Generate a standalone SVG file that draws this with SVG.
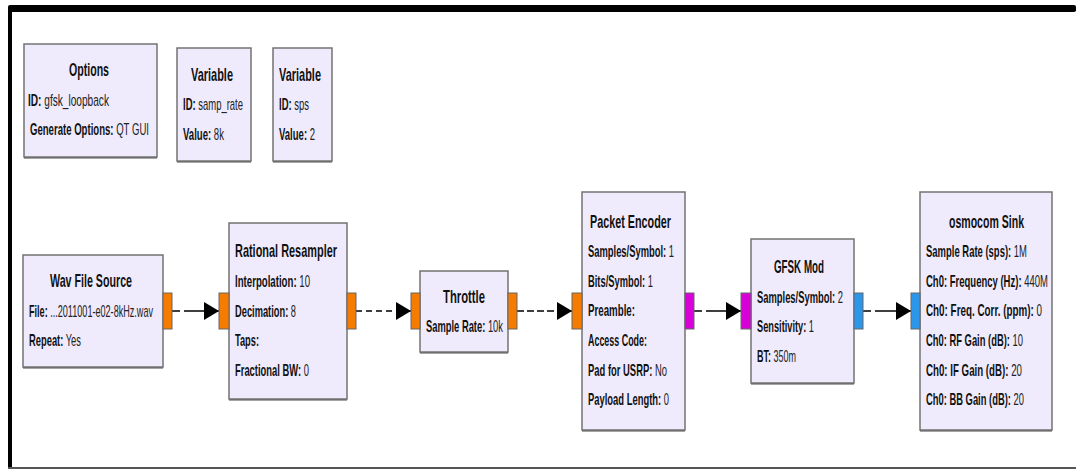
<svg xmlns="http://www.w3.org/2000/svg" width="1076" height="470" viewBox="0 0 1076 470">
<style>
.blk{fill:#EFEBFD;stroke:#737373;stroke-width:1.5}
.shd{fill:none;stroke:#4a4a4a;stroke-width:1.2}
.t{font-family:"Liberation Sans",Arial,sans-serif;font-size:18px;font-weight:bold;fill:#111}
.p{font-family:"Liberation Sans",Arial,sans-serif;font-size:16px;fill:#222}
.b{font-weight:bold;fill:#111}
.po{fill:#F57C00;stroke:#666;stroke-width:1}
.pm{fill:#D800D8;stroke:#666;stroke-width:1}
.pb{fill:#2A97EA;stroke:#666;stroke-width:1}
.cn{fill:none;stroke:#000;stroke-width:1.6}
</style>
<defs>
<marker id="ah" markerWidth="15" markerHeight="18" refX="15" refY="9" orient="auto" markerUnits="userSpaceOnUse">
<path d="M0,0 L15,9 L0,18 Z" fill="#000"/>
</marker>
</defs>
<rect width="1076" height="470" fill="#fff"/>
<g id="frame">
<path d="M10,469 L10,12 Q10,9 13,9 L1076,9" fill="none" stroke="#000" stroke-width="4"/>
<rect x="8" y="5" width="1068" height="7" fill="#000" rx="2"/>
<line x1="8" y1="468" x2="1076" y2="468" stroke="#555" stroke-width="2"/>
</g>
<g id="connectors">
<line class="cn" x1="172" y1="311" x2="219" y2="311" stroke-dasharray="8 4 60 0" marker-end="url(#ah)"/>
<line class="cn" x1="356" y1="311" x2="411" y2="311" stroke-dasharray="6 4" marker-end="url(#ah)"/>
<line class="cn" x1="517" y1="311" x2="572" y2="311" stroke-dasharray="7 3" marker-end="url(#ah)"/>
<line class="cn" x1="694" y1="311" x2="741" y2="311" stroke-dasharray="8 4 60 0" marker-end="url(#ah)"/>
<line class="cn" x1="863" y1="311" x2="911" y2="311" stroke-dasharray="8 4 60 0" marker-end="url(#ah)"/>
</g>
<g id="options">
<rect class="blk" x="24" y="44" width="133" height="113"/>
<line class="shd" x1="24" y1="158" x2="157" y2="158"/>
<text class="t" transform="translate(69,76) scale(0.6,1)" textLength="66.7" lengthAdjust="spacingAndGlyphs">Options</text>
<text class="p" transform="translate(28,106) scale(0.6,1)" textLength="135" lengthAdjust="spacingAndGlyphs"><tspan class="b">ID:</tspan> gfsk_loopback</text>
<text class="p" transform="translate(30,135) scale(0.6,1)" textLength="198.3" lengthAdjust="spacingAndGlyphs"><tspan class="b">Generate Options:</tspan> QT GUI</text>
</g>
<g id="var_samp_rate">
<rect class="blk" x="177" y="48" width="74" height="113"/>
<line class="shd" x1="177" y1="162" x2="251" y2="162"/>
<text class="t" transform="translate(191,81) scale(0.6,1)" textLength="70" lengthAdjust="spacingAndGlyphs">Variable</text>
<text class="p" transform="translate(183,110) scale(0.6,1)" textLength="100" lengthAdjust="spacingAndGlyphs"><tspan class="b">ID:</tspan> samp_rate</text>
<text class="p" transform="translate(183,140) scale(0.6,1)" textLength="68.3" lengthAdjust="spacingAndGlyphs"><tspan class="b">Value:</tspan> 8k</text>
</g>
<g id="var_sps">
<rect class="blk" x="273" y="48" width="59" height="113"/>
<line class="shd" x1="273" y1="162" x2="332" y2="162"/>
<text class="t" transform="translate(279,81) scale(0.6,1)" textLength="70" lengthAdjust="spacingAndGlyphs">Variable</text>
<text class="p" transform="translate(279,110) scale(0.6,1)" textLength="50" lengthAdjust="spacingAndGlyphs"><tspan class="b">ID:</tspan> sps</text>
<text class="p" transform="translate(279,140) scale(0.6,1)" textLength="60" lengthAdjust="spacingAndGlyphs"><tspan class="b">Value:</tspan> 2</text>
</g>
<g id="wav_source">
<rect class="blk" x="23" y="255" width="140" height="112"/>
<line class="shd" x1="23" y1="368" x2="163" y2="368"/>
<rect class="po" x="163" y="293" width="9" height="36"/>
<text class="t" transform="translate(50,287) scale(0.6,1)" textLength="136.7" lengthAdjust="spacingAndGlyphs">Wav File Source</text>
<text class="p" transform="translate(29,317) scale(0.6,1)" textLength="206.7" lengthAdjust="spacingAndGlyphs"><tspan class="b">File:</tspan> ...2011001-e02-8kHz.wav</text>
<text class="p" transform="translate(29,346) scale(0.6,1)" textLength="86.7" lengthAdjust="spacingAndGlyphs"><tspan class="b">Repeat:</tspan> Yes</text>
</g>
<g id="rational_resampler">
<rect class="blk" x="229" y="223" width="118" height="176"/>
<line class="shd" x1="229" y1="400" x2="347" y2="400"/>
<rect class="po" x="219" y="293" width="10" height="36"/>
<rect class="po" x="347" y="293" width="9" height="36"/>
<text class="t" transform="translate(235,257) scale(0.6,1)" textLength="170" lengthAdjust="spacingAndGlyphs">Rational Resampler</text>
<text class="p" transform="translate(235,287) scale(0.6,1)" textLength="125" lengthAdjust="spacingAndGlyphs"><tspan class="b">Interpolation:</tspan> 10</text>
<text class="p" transform="translate(235,317) scale(0.6,1)" textLength="101.7" lengthAdjust="spacingAndGlyphs"><tspan class="b">Decimation:</tspan> 8</text>
<text class="p b" transform="translate(235,346) scale(0.6,1)" textLength="40" lengthAdjust="spacingAndGlyphs">Taps:</text>
<text class="p" transform="translate(235,376) scale(0.6,1)" textLength="123.3" lengthAdjust="spacingAndGlyphs"><tspan class="b">Fractional BW:</tspan> 0</text>
</g>
<g id="throttle">
<rect class="blk" x="420" y="271" width="88" height="81"/>
<line class="shd" x1="420" y1="353" x2="508" y2="353"/>
<rect class="po" x="411" y="293" width="9" height="36"/>
<rect class="po" x="508" y="293" width="9" height="36"/>
<text class="t" transform="translate(443,303) scale(0.6,1)" textLength="70" lengthAdjust="spacingAndGlyphs">Throttle</text>
<text class="p" transform="translate(426,332) scale(0.6,1)" textLength="128.3" lengthAdjust="spacingAndGlyphs"><tspan class="b">Sample Rate:</tspan> 10k</text>
</g>
<g id="packet_encoder">
<rect class="blk" x="582" y="192" width="103" height="238"/>
<line class="shd" x1="582" y1="431" x2="685" y2="431"/>
<rect class="po" x="572" y="293" width="10" height="36"/>
<rect class="pm" x="685" y="293" width="9" height="36"/>
<text class="t" transform="translate(590,228) scale(0.6,1)" textLength="135" lengthAdjust="spacingAndGlyphs">Packet Encoder</text>
<text class="p" transform="translate(588,257) scale(0.6,1)" textLength="143.3" lengthAdjust="spacingAndGlyphs"><tspan class="b">Samples/Symbol:</tspan> 1</text>
<text class="p" transform="translate(588,287) scale(0.6,1)" textLength="108.3" lengthAdjust="spacingAndGlyphs"><tspan class="b">Bits/Symbol:</tspan> 1</text>
<text class="p b" transform="translate(588,316) scale(0.6,1)" textLength="78.3" lengthAdjust="spacingAndGlyphs">Preamble:</text>
<text class="p b" transform="translate(588,346) scale(0.6,1)" textLength="98.3" lengthAdjust="spacingAndGlyphs">Access Code:</text>
<text class="p" transform="translate(588,376) scale(0.6,1)" textLength="131.7" lengthAdjust="spacingAndGlyphs"><tspan class="b">Pad for USRP:</tspan> No</text>
<text class="p" transform="translate(588,405) scale(0.6,1)" textLength="135" lengthAdjust="spacingAndGlyphs"><tspan class="b">Payload Length:</tspan> 0</text>
</g>
<g id="gfsk_mod">
<rect class="blk" x="751" y="239" width="103" height="144"/>
<line class="shd" x1="751" y1="384" x2="854" y2="384"/>
<rect class="pm" x="741" y="293" width="10" height="36"/>
<rect class="pb" x="854" y="293" width="9" height="36"/>
<text class="t" transform="translate(774,273) scale(0.6,1)" textLength="83.3" lengthAdjust="spacingAndGlyphs">GFSK Mod</text>
<text class="p" transform="translate(757,303) scale(0.6,1)" textLength="143.3" lengthAdjust="spacingAndGlyphs"><tspan class="b">Samples/Symbol:</tspan> 2</text>
<text class="p" transform="translate(757,332) scale(0.6,1)" textLength="95" lengthAdjust="spacingAndGlyphs"><tspan class="b">Sensitivity:</tspan> 1</text>
<text class="p" transform="translate(757,362) scale(0.6,1)" textLength="65" lengthAdjust="spacingAndGlyphs"><tspan class="b">BT:</tspan> 350m</text>
</g>
<g id="osmocom_sink">
<rect class="blk" x="920" y="192" width="132" height="238"/>
<line class="shd" x1="920" y1="431" x2="1052" y2="431"/>
<rect class="pb" x="911" y="293" width="9" height="36"/>
<text class="t" transform="translate(949,228) scale(0.6,1)" textLength="125" lengthAdjust="spacingAndGlyphs">osmocom Sink</text>
<text class="p" transform="translate(926,257) scale(0.6,1)" textLength="168.3" lengthAdjust="spacingAndGlyphs"><tspan class="b">Sample Rate (sps):</tspan> 1M</text>
<text class="p" transform="translate(926,287) scale(0.6,1)" textLength="203.3" lengthAdjust="spacingAndGlyphs"><tspan class="b">Ch0: Frequency (Hz):</tspan> 440M</text>
<text class="p" transform="translate(926,316) scale(0.6,1)" textLength="193.3" lengthAdjust="spacingAndGlyphs"><tspan class="b">Ch0: Freq. Corr. (ppm):</tspan> 0</text>
<text class="p" transform="translate(926,346) scale(0.6,1)" textLength="161.7" lengthAdjust="spacingAndGlyphs"><tspan class="b">Ch0: RF Gain (dB):</tspan> 10</text>
<text class="p" transform="translate(926,376) scale(0.6,1)" textLength="160" lengthAdjust="spacingAndGlyphs"><tspan class="b">Ch0: IF Gain (dB):</tspan> 20</text>
<text class="p" transform="translate(926,405) scale(0.6,1)" textLength="163.3" lengthAdjust="spacingAndGlyphs"><tspan class="b">Ch0: BB Gain (dB):</tspan> 20</text>
</g>
</svg>
